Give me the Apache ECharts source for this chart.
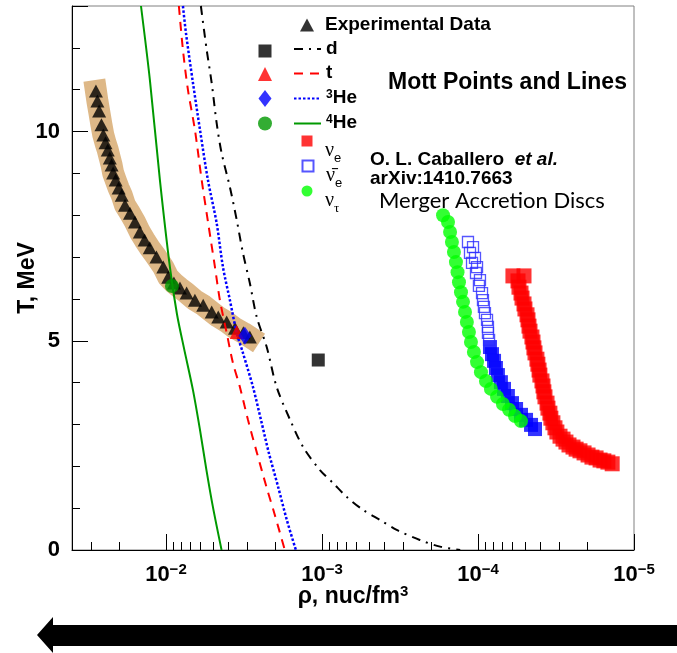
<!DOCTYPE html>
<html><head><meta charset="utf-8">
<script src="https://cdn.jsdelivr.net/npm/echarts@6/dist/echarts.min.js"></script>
<style>html,body{margin:0;padding:0;background:#fff}#c{width:677px;height:653px}</style>
</head><body><div id="c"></div>
<script>
// ---------- data (density rho in nuc/fm^3, temperature T in MeV) ----------
const expRho = [2.81e-2,2.75e-2,2.68e-2,2.59e-2,2.52e-2,2.44e-2,2.36e-2,2.29e-2,2.23e-2,2.18e-2,2.10e-2,2.01e-2,1.92e-2,1.83e-2,1.70e-2,1.58e-2,1.47e-2,1.37e-2,1.27e-2,1.15e-2,1.04e-2,9.67e-3,8.89e-3,8.13e-3,7.37e-3,6.52e-3,5.77e-3,5.09e-3,4.62e-3,4.08e-3,3.61e-3,3.19e-3,2.90e-3];
const expT   = [10.97,10.73,10.49,10.16,9.92,9.73,9.56,9.37,9.20,9.01,8.84,8.65,8.48,8.24,8.05,7.84,7.60,7.41,7.22,7.00,6.76,6.52,6.38,6.26,6.14,5.97,5.85,5.69,5.57,5.45,5.30,5.19,5.09];

const dLineRho = [5.97e-3,5.48e-3,5.09e-3,4.73e-3,4.40e-3,3.89e-3,3.52e-3,3.21e-3,2.90e-3,2.62e-3,2.26e-3,1.95e-3,1.60e-3,1.32e-3,1.03e-3,8.49e-4,6.95e-4,5.46e-4,4.25e-4,3.32e-4,2.36e-4,1.75e-4,1.30e-4];
const dLineT   = [13.0,11.95,11.16,10.20,9.49,8.67,7.89,7.10,6.38,5.57,4.85,3.89,3.11,2.46,1.91,1.60,1.27,0.96,0.72,0.48,0.24,0.08,0.0];

const tLineRho = [8.26e-3,7.78e-3,7.23e-3,6.52e-3,5.90e-3,5.36e-3,4.85e-3,4.51e-3,4.08e-3,3.72e-3,3.36e-3,2.98e-3,2.61e-3,2.27e-3,2.02e-3,1.73e-3];
const tLineT   = [13.0,11.95,11.0,10.04,8.84,7.81,6.76,5.97,5.19,4.47,3.90,3.11,2.32,1.51,0.88,0.0];

const he3LineRho = [7.78e-3,7.44e-3,6.71e-3,6.05e-3,5.38e-3,4.73e-3,4.31e-3,3.89e-3,3.52e-3,3.21e-3,2.77e-3,2.46e-3,2.19e-3,1.91e-3,1.68e-3,1.47e-3];
const he3LineT   = [13.0,12.35,11.16,10.04,8.84,7.81,6.76,5.97,5.19,4.71,3.90,3.11,2.32,1.51,0.72,0.0];

const he4LineRho = [1.445e-2,1.267e-2,1.093e-2,9.43e-3,8.50e-3,7.67e-3,6.71e-3,6.05e-3,5.50e-3,5.00e-3,4.40e-3];
const he4LineT   = [13.0,11.23,8.84,6.76,5.64,4.83,3.82,2.87,1.91,1.03,0.0];

// Mott points: d, t, 3He, 4He
const mottNames = ['d point','t point','3He point','4He point'];
const mottRho = [1.056e-3,3.52e-3,3.12e-3,9.15e-3];
const mottT   = [4.54,5.21,5.12,6.31];

// Merger accretion discs (Caballero et al.)
const nuERho = [5.97e-5,5.07e-5,5.54e-5,5.46e-5,5.30e-5,5.22e-5,5.07e-5,5.00e-5,4.85e-5,4.78e-5,4.71e-5,4.64e-5,4.51e-5,4.44e-5,4.38e-5,4.31e-5,4.19e-5,4.13e-5,4.06e-5,4.01e-5,3.89e-5,3.83e-5,3.78e-5,3.72e-5,3.61e-5,3.56e-5,3.46e-5,3.41e-5,3.31e-5,3.21e-5,3.12e-5,2.98e-5,2.85e-5,2.73e-5,2.61e-5,2.46e-5,2.35e-5,2.22e-5,2.09e-5,1.97e-5,1.86e-5,1.75e-5,1.65e-5,1.56e-5,1.47e-5,1.38e-5];
const nuET   = [6.55,6.55,6.43,6.28,6.14,6.02,5.88,5.76,5.62,5.50,5.35,5.23,5.09,4.97,4.83,4.71,4.56,4.44,4.30,4.18,4.04,3.92,3.78,3.66,3.51,3.39,3.27,3.15,3.04,2.92,2.82,2.72,2.65,2.58,2.51,2.46,2.41,2.37,2.32,2.27,2.22,2.20,2.15,2.13,2.10,2.06];

const nuEbarRho = [1.159e-4,1.076e-4,1.125e-4,1.045e-4,1.092e-4,1.014e-4,1.030e-4,9.71e-5,9.86e-5,9.42e-5,9.29e-5,9.16e-5,9.02e-5,8.75e-5,8.63e-5,8.63e-5,8.49e-5];
const nuEbarT   = [7.36,7.24,7.10,6.98,6.86,6.76,6.62,6.45,6.31,6.14,5.97,5.81,5.66,5.50,5.33,5.19,5.02];
const nuEbarLowRho = [8.38e-5,8.13e-5,7.89e-5,7.67e-5,7.45e-5,7.13e-5,6.81e-5,6.43e-5,6.05e-5,5.70e-5,5.30e-5,4.92e-5,4.57e-5,4.31e-5];
const nuEbarLowT   = [4.85,4.68,4.52,4.35,4.18,4.01,3.85,3.68,3.51,3.37,3.23,3.11,2.99,2.89];

const nuTauRho = [1.675e-4,1.556e-4,1.510e-4,1.469e-4,1.426e-4,1.384e-4,1.352e-4,1.324e-4,1.285e-4,1.247e-4,1.211e-4,1.178e-4,1.143e-4,1.109e-4,1.062e-4,1.014e-4,9.57e-5,8.89e-5,8.26e-5,7.55e-5,6.92e-5,6.32e-5,5.79e-5,5.30e-5];
const nuTauT   = [8.00,7.84,7.60,7.36,7.12,6.88,6.64,6.40,6.16,5.93,5.69,5.45,5.21,4.97,4.73,4.49,4.25,4.04,3.85,3.66,3.49,3.35,3.20,3.08];

// axis ticks
const xMin = 1e-5, xMax = 0.04;
const xMinorTicks = [2e-5,3e-5,4e-5,5e-5,6e-5,7e-5,8e-5,9e-5,2e-4,3e-4,4e-4,5e-4,6e-4,7e-4,8e-4,9e-4,2e-3,3e-3,4e-3,5e-3,6e-3,7e-3,8e-3,9e-3,2e-2,3e-2];
const yMax = 13;

// ---------- chart ----------
const zip = (a, b) => a.map((v, i) => [v, b[i]]);
const FONT = '"Liberation Sans", Arial, Helvetica, sans-serif';
const SERIF = '"Liberation Serif", "DejaVu Serif", serif';
const chart = echarts.init(document.getElementById('c'), null, {renderer: 'canvas'});

const noText = {fontSize: 1, lineHeight: 1};
const mk = (name, left, top, w, h, extra) => Object.assign({
  data: [name], left: left, top: top, itemWidth: w, itemHeight: h, padding: 0,
  orient: 'vertical', selectedMode: false, formatter: () => '', textStyle: noText
}, extra || {});
const lineLegend = (name, top) => ({
  data: [name], left: 293, top: top, itemWidth: 27, itemHeight: 14, padding: 0,
  selectedMode: false,
  itemStyle: {color: 'rgba(0,0,0,0)', borderColor: 'rgba(0,0,0,0)', borderWidth: 0, opacity: 0},
  formatter: n => n === '3He' ? '{s|3}{b|He}' : (n === '4He' ? '{s|4}{b|He}' : '{b|' + n + '}'),
  textStyle: {fontFamily: FONT, fontSize: 19, fontWeight: 'bold', color: '#000', lineHeight: 20, rich: {
    b: {fontFamily: FONT, fontSize: 19, fontWeight: 'bold', color: '#000', lineHeight: 20, verticalAlign: 'top'},
    s: {fontFamily: FONT, fontSize: 12, fontWeight: 'bold', color: '#000', lineHeight: 12, verticalAlign: 'top'}
  }}
});
const nuRich = {
  g: {fontFamily: SERIF, fontSize: 20, color: '#000', lineHeight: 20, padding: [10, 0, 0, 7.5], verticalAlign: 'top'},
  se: {fontFamily: FONT, fontSize: 13, color: '#000', lineHeight: 13, padding: [21, 0, 0, 0], verticalAlign: 'top'},
  st: {fontFamily: SERIF, fontSize: 13, color: '#000', lineHeight: 13, padding: [21, 0, 0, 0], verticalAlign: 'top'}
};
const nuLegend = (name, top, txt) => ({
  data: [name], left: 301.5, top: top, itemWidth: 11, itemHeight: 11, padding: 0, selectedMode: false,
  formatter: () => txt, textStyle: {fontSize: 13, rich: nuRich}
});

const fmtX = v => {
  const l = Math.log10(v), e = Math.round(l);
  if (Math.abs(l - e) > 1e-6) return '';
  return '{b|10}{s|\u2212' + (-e) + '}';
};

const option = {
  animation: false,
  backgroundColor: '#fff',
  grid: {left: 72, right: 43, top: 6, bottom: 103, containLabel: false, outerBoundsMode: 'none',
    show: true, borderColor: '#808080', borderWidth: 1, backgroundColor: 'transparent'},
  xAxis: [{
    type: 'log', logBase: 10, min: xMin, max: xMax, inverse: true, position: 'bottom',
    axisLine: {show: true, onZero: false, lineStyle: {color: '#000', width: 1}},
    axisTick: {show: true, inside: true, length: 16, lineStyle: {color: '#000', width: 1}},
    splitLine: {show: false},
    axisLabel: {margin: 12, formatter: fmtX, rich: {
      b: {fontFamily: FONT, fontSize: 22, fontWeight: 'bold', color: '#000', lineHeight: 26},
      s: {fontFamily: FONT, fontSize: 15, fontWeight: 'bold', color: '#000', lineHeight: 15, verticalAlign: 'top'}
    }},
    name: '{t|\u03C1, nuc/fm}{s|3}', nameLocation: 'middle', nameGap: 34, nameMoveOverlap: false,
    nameTextStyle: {rich: {
      t: {fontFamily: FONT, fontSize: 23, fontWeight: 'bold', color: '#000', lineHeight: 26},
      s: {fontFamily: FONT, fontSize: 15, fontWeight: 'bold', color: '#000', lineHeight: 15, verticalAlign: 'top'}
    }}
  }, {
    type: 'log', logBase: 10, min: xMin, max: xMax, inverse: true, position: 'bottom',
    axisLine: {show: false}, splitLine: {show: false}, axisLabel: {show: false},
    axisTick: {show: true, inside: true, length: 8, customValues: xMinorTicks, lineStyle: {color: '#000', width: 1}}
  }],
  yAxis: [{
    type: 'value', min: 0, max: yMax, interval: 1, position: 'left',
    axisLine: {show: true, onZero: false, lineStyle: {color: '#000', width: 1}},
    axisTick: {show: true, inside: true, length: 8, lineStyle: {color: '#000', width: 1}},
    splitLine: {show: false},
    axisLabel: {margin: 12, fontFamily: FONT, fontSize: 22, fontWeight: 'bold', color: '#000',
      formatter: v => (v % 5 === 0 ? String(v) : '')},
    name: 'T, MeV', nameLocation: 'middle', nameGap: 33, nameMoveOverlap: false,
    nameTextStyle: {fontFamily: FONT, fontSize: 23, fontWeight: 'bold', color: '#000'}
  }, {
    type: 'value', min: 0, max: yMax, interval: 5, position: 'left',
    axisLine: {show: false}, splitLine: {show: false}, axisLabel: {show: false},
    axisTick: {show: true, inside: true, length: 16, lineStyle: {color: '#000', width: 1}}
  }],
  legend: [
    {data: ['Experimental Data'], left: 300, top: 15, itemWidth: 14, itemHeight: 13, padding: 0, selectedMode: false,
     formatter: n => '{b|' + n + '}',
     textStyle: {fontSize: 19, lineHeight: 20, rich: {b: {fontFamily: FONT, fontSize: 19, fontWeight: 'bold', color: '#000', lineHeight: 20, padding: [0, 0, 0, 6]}}}},
    mk('d point', 258.5, 44.5, 13, 13),
    mk('t point', 258, 67, 14, 14),
    mk('3He point', 258.5, 90, 13, 17, {symbolKeepAspect: false}),
    mk('4He point', 258, 116.5, 14, 14),
    lineLegend('d', 39),
    lineLegend('t', 63.5),
    lineLegend('3He', 88.5),
    lineLegend('4He', 113.5),
    nuLegend('\u03BDe', 131, '{g|\u03BD}{se|e}'),
    nuLegend('\u03BD\u0304e', 156, '{g|\u03BD\u0304}{se|e}'),
    nuLegend('\u03BD\u03C4', 181, '{g|\u03BD}{st|\u03C4}')
  ],
  series: [
    {name: 'band', type: 'line', data: zip(expRho, expT), symbol: 'none', silent: true,
     lineStyle: {color: '#DEB887', width: 22, cap: 'square', join: 'round'}, z: 1},
    {name: 'Experimental Data', type: 'scatter', data: zip(expRho, expT), symbol: 'triangle', symbolSize: [14, 13],
     itemStyle: {color: '#000'}, z: 2},
    {name: 'd', type: 'line', data: zip(dLineRho, dLineT), symbol: 'none', smooth: 0.3,
     lineStyle: {color: '#000', width: 2, type: [9, 6, 2, 6]}, z: 3},
    {name: 't', type: 'line', data: zip(tLineRho, tLineT), symbol: 'none', smooth: 0.3,
     lineStyle: {color: '#ff0000', width: 2, type: [9, 7]}, z: 3},
    {name: '3He', type: 'line', data: zip(he3LineRho, he3LineT), symbol: 'none', smooth: 0.3,
     lineStyle: {color: '#0000ff', width: 2.5, type: [2.5, 2]}, z: 3},
    {name: '4He', type: 'line', data: zip(he4LineRho, he4LineT), symbol: 'none', smooth: 0.3,
     lineStyle: {color: '#009900', width: 2}, z: 3},
    {name: mottNames[0], type: 'scatter', data: [[mottRho[0], mottT[0]]], symbol: 'rect', symbolSize: 13, itemStyle: {color: '#000'}, z: 4},
    {name: mottNames[1], type: 'scatter', data: [[mottRho[1], mottT[1]]], symbol: 'triangle', symbolSize: 14, itemStyle: {color: '#ff0000'}, z: 4},
    {name: mottNames[2], type: 'scatter', data: [[mottRho[2], mottT[2]]], symbol: 'diamond', symbolSize: [13, 18], itemStyle: {color: '#0000ff'}, z: 4},
    {name: mottNames[3], type: 'scatter', data: [[mottRho[3], mottT[3]]], symbol: 'circle', symbolSize: 14, itemStyle: {color: '#009900'}, z: 4},
    {name: '\u03BDe', type: 'scatter', data: zip(nuERho, nuET), symbol: 'rect', symbolSize: 15, itemStyle: {color: '#ff0000'}, z: 2},
    {name: '\u03BD\u0304e low', type: 'scatter', data: zip(nuEbarLowRho, nuEbarLowT), symbol: 'rect', symbolSize: 14, itemStyle: {color: '#0000ff'}, z: 2},
    {name: '\u03BD\u0304e', type: 'scatter', data: zip(nuEbarRho, nuEbarT), symbol: 'rect', symbolSize: 11,
     itemStyle: {color: 'rgba(0,0,0,0)', borderColor: '#2a2aff', borderWidth: 1.3}, z: 2},
    {name: '\u03BD\u03C4', type: 'scatter', data: zip(nuTauRho, nuTauT), symbol: 'circle', symbolSize: 14, itemStyle: {color: '#00ff00'}, z: 3}
  ],
  graphic: [
    {type: 'text', x: 388, y: 83, style: {text: 'Mott Points and Lines', fontFamily: FONT, fontSize: 23, fontWeight: 'bold', fill: '#000', verticalAlign: 'middle'}},
    {type: 'text', x: 370, y: 160, style: {text: '{a|O. L. Caballero  }{i|et al.}', verticalAlign: 'middle', rich: {
      a: {fontFamily: FONT, fontSize: 19, fontWeight: 'bold', fill: '#000'},
      i: {fontFamily: FONT, fontSize: 19, fontWeight: 'bold', fontStyle: 'italic', fill: '#000'}}}},
    {type: 'text', x: 370, y: 179, style: {text: 'arXiv:1410.7663', fontFamily: FONT, fontSize: 19, fontWeight: 'bold', fill: '#000', verticalAlign: 'middle'}},
    {type: 'text', x: 379, y: 201, style: {text: 'Merger Accretion Discs', fontFamily: 'Lato, "Open Sans", sans-serif', fontSize: 22, fill: '#000', verticalAlign: 'middle'}},
    {type: 'polygon', shape: {points: [[37, 635], [53, 617], [53, 625], [677, 625], [677, 646], [53, 646], [53, 653]]}, style: {fill: '#000'}}
  ]
};
chart.setOption(option);
</script></body></html>
